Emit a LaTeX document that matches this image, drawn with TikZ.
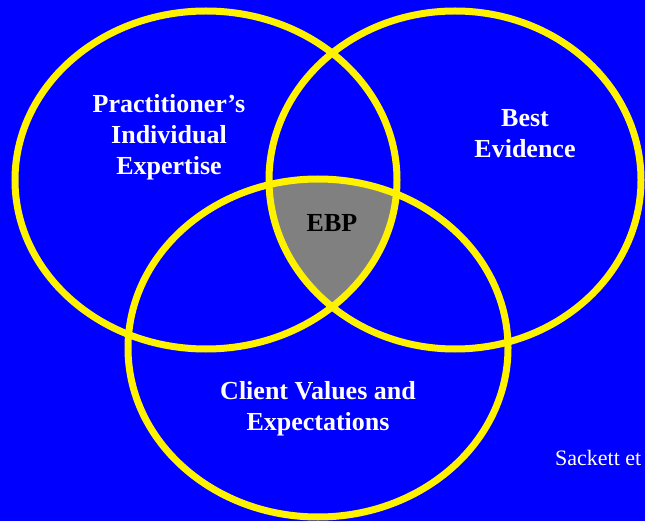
\documentclass[tikz,border=0pt]{standalone}
\usepackage{fontspec}
\setmainfont{Liberation Serif}

\begin{document}
\begin{tikzpicture}[x=1pt, y=-1pt,
		ring/.style={draw=yellow, line width=7pt},
		lbl/.style={text=white, align=center, font=\bfseries\fontsize{26}{31}\selectfont}]
			\fill [blue] (0,0) rectangle (645,521);
			\useasboundingbox (0,0) rectangle (645,521);
			
			\coordinate (P) at (206,180) {};
			\coordinate (E) at (455,180) {};
			\coordinate (V) at (318,348) {};
			
			% shared part of all three
			\begin{scope}
				\clip (P) ellipse [x radius=191, y radius=169];
				\clip (E) ellipse [x radius=186, y radius=169];
				\fill [gray] (V) ellipse [x radius=190, y radius=169];
			\end{scope}
			
			\foreach \c/\r in {P/191,E/186,V/190}{
				\draw [ring] (\c) ellipse [x radius=\r, y radius=169];}
			
			\node [lbl] (expertise) at (169,137) {Practitioner’s\\Individual\\Expertise};
			\node [lbl] (evidence) at (525,134) {Best\\Evidence};
			\node [lbl] (values) at (318,409) {Client Values and\\Expectations};
			\node [lbl, text=black] (ebp) at (332,223) {EBP};
			\node [anchor=base west, inner sep=0pt, text=white, font=\fontsize{22}{26}\selectfont] (cite) at (555,465) {Sackett et};
		\end{tikzpicture}
\end{document}
